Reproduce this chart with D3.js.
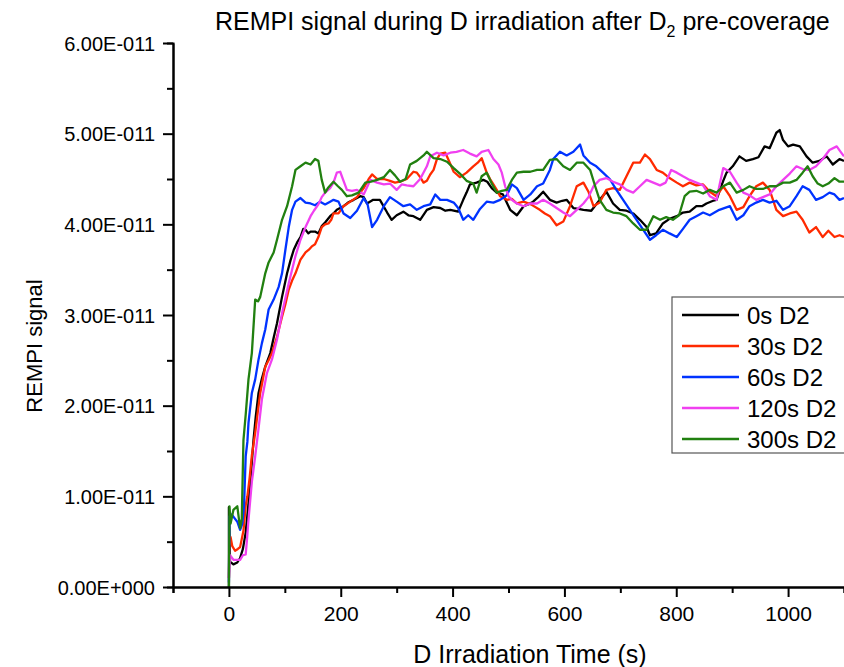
<!DOCTYPE html>
<html>
<head>
<meta charset="utf-8">
<script src="https://cdnjs.cloudflare.com/ajax/libs/d3/7.8.5/d3.min.js"></script>
<style>
  html, body { margin: 0; padding: 0; background: #fff; }
  svg text { font-family: "Liberation Sans", Arial, sans-serif; fill: #000; }
</style>
</head>
<body>
<div id="chart"></div>
<script>
// REMPI signal vs D irradiation time, values in units of 1e-11
const UNIT = 1e-11;

const seriesNames = ["0s D2", "30s D2", "60s D2", "120s D2", "300s D2"];
const seriesColors = ["#000000", "#ff2a00", "#0033ff", "#f040f0", "#218010"];

const xTicks = [0, 200, 400, 600, 800, 1000];
const yTicks = [0, 1e-11, 2e-11, 3e-11, 4e-11, 5e-11, 6e-11];
const yTickLabels = ["0.00E+000", "1.00E-011", "2.00E-011", "3.00E-011", "4.00E-011", "5.00E-011", "6.00E-011"];

// [time (s), signal / 1e-11]
const d2_0s = [[0,0.0],[0,0.88],[2,0.28],[8,0.25],[15,0.27],[20,0.32],[25,0.42],[30,0.6],[35,0.92],[40,1.3],[44,1.62],[48,1.88],[53,2.14],[59,2.3],[65,2.43],[74,2.58],[80,2.75],[86,2.91],[95,3.2],[104,3.46],[110,3.6],[116,3.72],[122,3.8],[128,3.86],[133,3.95],[137,3.94],[142,3.9],[146,3.92],[154,3.92],[160,3.9],[166,3.98],[172,4.02],[181,4.09],[187,4.12],[193,4.16],[205,4.2],[213,4.24],[223,4.27],[235,4.31],[241,4.3],[247,4.23],[258,4.27],[270,4.27],[283,4.13],[291,4.05],[300,4.1],[312,4.14],[321,4.1],[330,4.09],[342,4.05],[354,4.16],[366,4.19],[378,4.18],[387,4.15],[396,4.16],[410,4.14],[419,4.27],[425,4.35],[431,4.44],[443,4.46],[455,4.49],[462,4.47],[470,4.4],[479,4.35],[490,4.33],[503,4.16],[515,4.1],[527,4.2],[535,4.22],[544,4.25],[553,4.3],[562,4.36],[574,4.27],[586,4.24],[596,4.26],[604,4.27],[616,4.18],[625,4.17],[634,4.16],[648,4.15],[663,4.27],[675,4.36],[687,4.23],[699,4.16],[711,4.15],[723,4.12],[735,4.05],[747,3.97],[753,3.88],[764,3.9],[776,4.01],[788,4.06],[801,4.09],[812,4.13],[824,4.14],[836,4.2],[846,4.2],[854,4.23],[866,4.26],[872,4.27],[877,4.36],[884,4.48],[890,4.57],[901,4.64],[913,4.75],[925,4.7],[937,4.72],[947,4.74],[958,4.86],[967,4.84],[979,5.01],[985,5.04],[991,4.93],[1000,4.86],[1009,4.88],[1021,4.86],[1033,4.75],[1044,4.68],[1056,4.7],[1069,4.75],[1080,4.66],[1092,4.72],[1100,4.7]];

const d2_30s = [[0,0.1],[1,0.5],[3,0.55],[6,0.45],[11,0.4],[16,0.42],[20,0.44],[26,0.62],[30,0.9],[33,1.0],[37,1.2],[41,1.45],[47,1.7],[52,1.95],[56,2.14],[65,2.43],[71,2.5],[77,2.58],[86,2.76],[95,2.98],[101,3.12],[107,3.28],[113,3.38],[119,3.46],[128,3.61],[137,3.69],[143,3.72],[149,3.76],[154,3.78],[160,3.86],[166,3.97],[172,4.0],[178,4.01],[183,4.05],[187,4.12],[196,4.12],[205,4.2],[217,4.25],[229,4.3],[241,4.4],[250,4.5],[256,4.55],[265,4.5],[277,4.5],[288,4.48],[297,4.46],[306,4.47],[318,4.5],[330,4.58],[336,4.57],[342,4.52],[348,4.46],[354,4.48],[360,4.55],[366,4.6],[372,4.72],[378,4.78],[387,4.79],[395,4.68],[402,4.58],[413,4.52],[425,4.57],[437,4.64],[445,4.68],[452,4.73],[461,4.57],[467,4.5],[473,4.44],[479,4.38],[485,4.31],[497,4.27],[506,4.28],[515,4.23],[527,4.25],[540,4.22],[556,4.16],[565,4.12],[574,4.09],[586,3.99],[598,4.03],[610,4.2],[622,4.42],[634,4.46],[643,4.36],[652,4.2],[663,4.24],[675,4.38],[687,4.4],[699,4.38],[711,4.53],[723,4.68],[735,4.68],[744,4.77],[753,4.72],[765,4.6],[776,4.57],[788,4.51],[801,4.46],[812,4.42],[824,4.46],[836,4.43],[848,4.44],[860,4.36],[872,4.31],[884,4.42],[896,4.31],[908,4.16],[920,4.19],[931,4.31],[943,4.42],[955,4.46],[967,4.38],[979,4.16],[991,4.09],[1003,4.12],[1015,4.14],[1026,4.05],[1038,3.91],[1050,3.97],[1062,3.86],[1072,3.93],[1083,3.86],[1092,3.88],[1100,3.86]];

const d2_60s = [[0,0.05],[1,0.78],[5,0.8],[10,0.76],[15,0.72],[20,0.63],[24,0.7],[27,0.89],[30,1.44],[33,1.6],[35,1.81],[41,2.14],[47,2.29],[53,2.51],[59,2.69],[65,2.84],[71,3.06],[80,3.17],[89,3.31],[95,3.46],[101,3.72],[107,3.97],[113,4.16],[119,4.25],[128,4.29],[137,4.24],[146,4.23],[154,4.21],[163,4.25],[172,4.22],[181,4.25],[187,4.27],[196,4.25],[205,4.12],[217,4.07],[229,4.15],[241,4.29],[248,4.22],[256,3.97],[265,4.05],[277,4.2],[288,4.3],[300,4.25],[312,4.2],[324,4.22],[336,4.16],[348,4.2],[360,4.22],[369,4.33],[378,4.27],[390,4.27],[402,4.24],[410,4.18],[419,4.05],[428,4.1],[437,4.05],[449,4.17],[461,4.25],[473,4.24],[485,4.27],[497,4.32],[506,4.44],[515,4.4],[527,4.27],[539,4.33],[551,4.42],[562,4.45],[574,4.6],[580,4.72],[592,4.8],[604,4.76],[616,4.8],[628,4.88],[634,4.76],[646,4.68],[657,4.64],[669,4.57],[681,4.5],[693,4.38],[705,4.27],[717,4.16],[729,4.05],[741,3.94],[753,3.83],[764,3.88],[776,3.94],[788,3.9],[801,3.86],[812,3.95],[824,4.05],[836,4.09],[848,4.13],[860,4.1],[877,4.16],[896,4.2],[908,4.05],[920,4.1],[931,4.2],[943,4.24],[955,4.27],[967,4.24],[979,4.26],[991,4.16],[1003,4.2],[1015,4.31],[1026,4.42],[1038,4.38],[1050,4.27],[1062,4.3],[1074,4.35],[1083,4.33],[1092,4.27],[1100,4.29]];

const d2_120s = [[0,0.1],[2,0.35],[8,0.3],[15,0.3],[20,0.3],[25,0.35],[30,0.36],[32,0.5],[35,0.74],[41,1.16],[47,1.44],[53,1.75],[59,2.07],[68,2.36],[77,2.51],[86,2.73],[95,3.02],[107,3.35],[119,3.65],[128,3.83],[137,3.97],[146,4.09],[152,4.15],[160,4.22],[166,4.3],[172,4.35],[181,4.4],[187,4.46],[193,4.57],[199,4.58],[205,4.48],[211,4.38],[220,4.37],[229,4.38],[241,4.33],[253,4.49],[265,4.46],[277,4.44],[288,4.45],[300,4.38],[309,4.44],[318,4.43],[330,4.42],[342,4.5],[354,4.64],[360,4.75],[372,4.79],[384,4.76],[396,4.79],[407,4.8],[419,4.82],[431,4.78],[443,4.75],[452,4.8],[464,4.82],[473,4.72],[482,4.66],[488,4.57],[494,4.42],[500,4.31],[506,4.27],[515,4.23],[527,4.2],[539,4.23],[551,4.23],[562,4.27],[574,4.23],[586,4.18],[598,4.13],[610,4.09],[622,4.16],[634,4.23],[643,4.3],[652,4.42],[663,4.49],[675,4.51],[687,4.47],[699,4.44],[711,4.38],[723,4.35],[735,4.42],[747,4.49],[759,4.46],[771,4.43],[781,4.46],[791,4.6],[801,4.57],[812,4.53],[824,4.49],[836,4.46],[848,4.43],[860,4.31],[872,4.27],[878,4.45],[884,4.62],[896,4.58],[908,4.46],[920,4.35],[931,4.32],[943,4.27],[955,4.3],[967,4.33],[979,4.42],[991,4.49],[1003,4.56],[1015,4.64],[1026,4.61],[1038,4.6],[1050,4.64],[1062,4.72],[1074,4.82],[1087,4.86],[1094,4.8],[1100,4.75]];

const d2_300s = [[0,0.0],[1,0.89],[3,0.7],[8,0.85],[15,0.89],[20,0.65],[23,0.75],[26,1.62],[30,1.9],[35,2.29],[41,2.58],[47,3.17],[52,3.15],[56,3.2],[65,3.46],[71,3.58],[80,3.69],[86,3.83],[95,4.05],[104,4.2],[113,4.42],[119,4.6],[128,4.64],[137,4.68],[146,4.66],[154,4.72],[160,4.7],[166,4.49],[172,4.35],[177,4.4],[187,4.47],[195,4.42],[202,4.38],[211,4.31],[220,4.32],[232,4.35],[244,4.46],[254,4.47],[265,4.49],[277,4.52],[288,4.6],[297,4.54],[306,4.47],[316,4.5],[324,4.66],[336,4.7],[348,4.76],[354,4.8],[366,4.73],[378,4.72],[390,4.69],[402,4.62],[413,4.56],[425,4.48],[437,4.45],[443,4.35],[452,4.53],[461,4.57],[470,4.45],[479,4.35],[488,4.37],[497,4.38],[506,4.49],[515,4.57],[527,4.58],[539,4.58],[551,4.6],[562,4.6],[574,4.71],[586,4.72],[598,4.64],[610,4.6],[622,4.68],[634,4.68],[646,4.6],[655,4.42],[663,4.27],[675,4.16],[687,4.13],[699,4.12],[711,4.09],[723,4.01],[735,3.94],[747,3.94],[759,4.09],[771,4.05],[782,4.08],[794,4.05],[805,4.1],[815,4.31],[824,4.36],[836,4.37],[848,4.34],[860,4.38],[872,4.35],[884,4.42],[896,4.46],[908,4.35],[920,4.38],[931,4.42],[943,4.39],[955,4.39],[967,4.42],[979,4.42],[991,4.46],[1003,4.46],[1015,4.49],[1026,4.57],[1035,4.64],[1044,4.53],[1053,4.45],[1062,4.42],[1072,4.45],[1083,4.51],[1092,4.47],[1100,4.47]];

const allSeries = [d2_0s, d2_30s, d2_60s, d2_120s, d2_300s];

const W = 844, H = 667;
const margin = { top: 43, right: 0, bottom: 80, left: 173 };
const innerW = W - margin.left - margin.right;
const innerH = H - margin.top - margin.bottom;

const svg = d3.select("#chart").append("svg")
    .attr("width", W)
    .attr("height", H);

const x = d3.scaleLinear().domain([-100, 1100]).range([0, innerW]);
const y = d3.scaleLinear().domain([0, 6e-11]).range([innerH, 0]);

const g = svg.append("g")
    .attr("transform", `translate(${margin.left},${margin.top})`);

g.append("clipPath").attr("id", "clip")
  .append("rect").attr("x", 0).attr("y", -5).attr("width", innerW).attr("height", innerH + 5);

// series lines
const line = d3.line()
    .x(d => x(d[0]))
    .y(d => y(d[1] * UNIT));

g.append("g").attr("clip-path", "url(#clip)")
  .selectAll("path")
  .data(allSeries)
  .enter().append("path")
    .attr("d", line)
    .attr("fill", "none")
    .attr("stroke", (d, i) => seriesColors[i])
    .attr("stroke-width", 2.3)
    .attr("stroke-linejoin", "round");

// axes
const xAxis = g.append("g")
    .attr("transform", `translate(0,${innerH})`)
    .call(d3.axisBottom(x).tickValues(xTicks).tickSize(10).tickSizeOuter(0).tickFormat(d3.format("d")));
const xMinor = g.append("g")
    .attr("transform", `translate(0,${innerH})`)
    .call(d3.axisBottom(x).tickValues(d3.range(-100, 1101, 200)).tickSize(6).tickFormat(""));

const yAxis = g.append("g")
    .call(d3.axisLeft(y).tickValues(yTicks).tickSize(10).tickSizeOuter(0).tickFormat((d, i) => yTickLabels[i]));
const yMinor = g.append("g")
    .call(d3.axisLeft(y).tickValues(d3.range(0.5e-11, 6e-11, 1e-11)).tickSize(6).tickFormat(""));

[xAxis, xMinor, yAxis, yMinor].forEach(a => {
  a.select(".domain").attr("stroke", "#000").attr("stroke-width", 2);
  a.selectAll(".tick line").attr("stroke", "#000").attr("stroke-width", 2);
  a.selectAll(".tick text").attr("font-size", 20).attr("fill", "#000")
    .attr("font-family", "Liberation Sans, Arial, sans-serif");
});
xAxis.selectAll(".tick text").attr("font-size", 21).attr("dy", "1.0em");
yAxis.selectAll(".tick text").attr("x", -18).attr("dy", "0.36em");

// axis titles
svg.append("text")
    .attr("x", 530).attr("y", 663)
    .attr("text-anchor", "middle")
    .attr("font-size", 25)
    .text("D Irradiation Time (s)");

svg.append("text")
    .attr("transform", "translate(42,346) rotate(-90)")
    .attr("text-anchor", "middle")
    .attr("font-size", 22)
    .text("REMPI signal");

// title
const title = svg.append("text")
    .attr("x", 215).attr("y", 30)
    .attr("font-size", 25);
title.append("tspan").text("REMPI signal during D irradiation after D");
title.append("tspan").attr("font-size", 16).attr("dy", 7).text("2");
title.append("tspan").attr("dy", -7).text(" pre-coverage");

// legend
const legend = svg.append("g").attr("transform", "translate(672,297)");
legend.append("rect")
    .attr("width", 190).attr("height", 156)
    .attr("fill", "#fff")
    .attr("stroke", "#555").attr("stroke-width", 1.2);

const rows = legend.selectAll(".row")
    .data(seriesNames)
    .enter().append("g")
    .attr("class", "row")
    .attr("transform", (d, i) => `translate(0,${18 + i * 31})`);
rows.append("line")
    .attr("x1", 10).attr("x2", 67)
    .attr("stroke", (d, i) => seriesColors[i])
    .attr("stroke-width", 2.3);
rows.append("text")
    .attr("x", 75).attr("dy", "0.36em")
    .attr("font-size", 24)
    .text(d => d);
</script>
</body>
</html>
